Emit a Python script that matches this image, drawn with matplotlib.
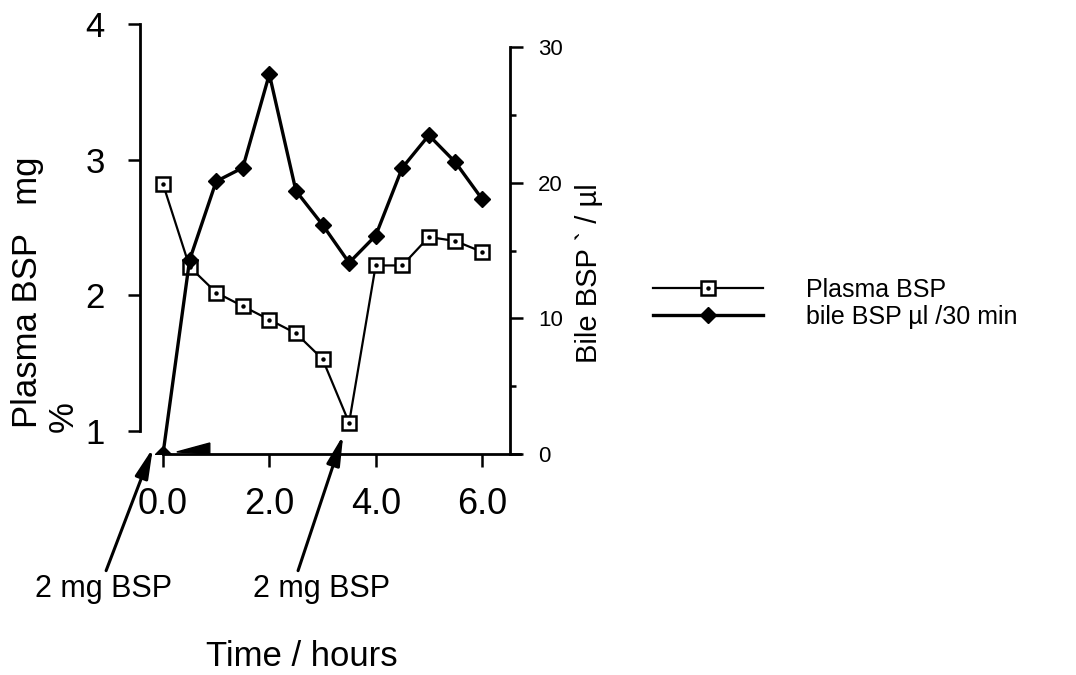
import numpy as np
from matplotlib import pyplot as plt
from matplotlib.legend_handler import HandlerTuple

plt.rcParams['font.family'] = ['Liberation Sans', 'DejaVu Sans']

# data
hours = [0.0, 0.5, 1.0, 1.5, 2.0, 2.5, 3.0, 3.5, 4.0, 4.5, 5.0, 5.5, 6.0]
plasma_bsp = [2.82, 2.21, 2.02, 1.92, 1.82, 1.72, 1.53, 1.06, 2.22, 2.22, 2.43, 2.40, 2.32]
bile_bsp = [0.0, 14.3, 20.1, 21.1, 28.0, 19.4, 16.9, 14.1, 16.1, 21.1, 23.5, 21.5, 18.8]

x_ticks = [0, 2, 4, 6]
x_labels = ["0.0", "2.0", "4.0", "6.0"]
left_ticks = [1, 2, 3, 4]
right_ticks = [0, 10, 20, 30]
right_minor = [5, 15, 25]

# injections: (arrow tip, arrow tail, label position) in (hours, bile units)
doses = [((-0.19, 0.44), (-1.07, -8.6), (-1.11, -9.95)),
         ((3.39, 1.4), (2.54, -8.6), (2.99, -9.95))]
wedge_x = [0.26, 0.88, 0.88]
wedge_y = [0.15, 0.81, 0.0]

fig = plt.figure(figsize=(10.76, 6.75), dpi=100)
ax = fig.add_axes([140/1076, 1 - 454/675, 380/1076, 430/675])
ax2 = ax.twinx()

ax.set_xlim(-0.4326, 6.714)
ax.set_ylim(0.830, 4.0)
ax2.set_ylim(0, 31.7)

ax.patch.set_visible(False)
for s in ['top', 'right']:
    ax.spines[s].set_visible(False)
for s in ['top', 'left', 'bottom']:
    ax2.spines[s].set_visible(False)
ax.spines['left'].set_bounds(1, 4)
ax.spines['bottom'].set_bounds(0, 6.714)
ax2.spines['right'].set_position(('data', 6.526))
ax2.spines['right'].set_bounds(0, 30)
for sp in [ax.spines['left'], ax.spines['bottom'], ax2.spines['right']]:
    sp.set_linewidth(2)

# plasma: open squares with a dot inside
sq, = ax.plot(hours, plasma_bsp, color='black', lw=1.6, marker='s', ms=9.5,
              mfc='white', mec='black', mew=1.8, zorder=3)
dot, = ax.plot(hours, plasma_bsp, ls='none', marker='o', ms=2.2, color='black', zorder=4)

# bile: filled diamonds
bl, = ax2.plot(hours, bile_bsp, color='black', lw=2.4, marker='D', ms=8, zorder=3)

ax.set_xticks(x_ticks)
ax.set_xticklabels(x_labels)
ax.set_yticks(left_ticks)
ax.tick_params(axis='x', direction='out', length=9, width=1.8, pad=15, labelsize=26)
ax.tick_params(axis='y', direction='out', length=8.5, width=1.8, pad=17, labelsize=25)
ax2.set_yticks(right_ticks)
ax2.set_yticks(right_minor, minor=True)
ax2.tick_params(axis='y', which='major', direction='out', length=9, width=1.8, pad=11, labelsize=16)
ax2.tick_params(axis='y', which='minor', direction='out', length=4.5, width=1.8)

fig.text(28/1076, 1 - 428/675, "Plasma BSP   mg", rotation=90, ha='center', va='bottom', fontsize=25)
fig.text(63/1076, 1 - 432/675, "%", rotation=90, ha='center', va='bottom', fontsize=25)
fig.text(589/1076, 1 - 273/675, "Bile BSP ` / µl", rotation=90, ha='center', va='center', fontsize=21)
fig.text(302/1076, 1 - 657/675, "Time / hours", ha='center', va='center', fontsize=25)

for tip, tail, lab in doses:
    ax2.annotate('', xy=tip, xytext=tail, annotation_clip=False,
                 arrowprops=dict(arrowstyle='-|>,head_length=0.9,head_width=0.2',
                                 mutation_scale=20, lw=2.2, color='black',
                                 shrinkA=0, shrinkB=0))
    ax2.text(lab[0], lab[1], "2 mg BSP", ha='center', va='center', fontsize=22, clip_on=False)

ax2.fill(wedge_x, wedge_y, color='black', clip_on=False, zorder=5)

fig.legend([(sq, dot), bl], ["Plasma BSP", "bile BSP µl /30 min"],
           handler_map={tuple: HandlerTuple(ndivide=1, pad=0)},
           loc='upper left', bbox_to_anchor=(653/1076, 1 - 278/675),
           frameon=False, fontsize=18, handlelength=4.4, handletextpad=1.7,
           labelspacing=0.1, borderpad=0, borderaxespad=0)

fig.savefig('out.png', dpi=100)
